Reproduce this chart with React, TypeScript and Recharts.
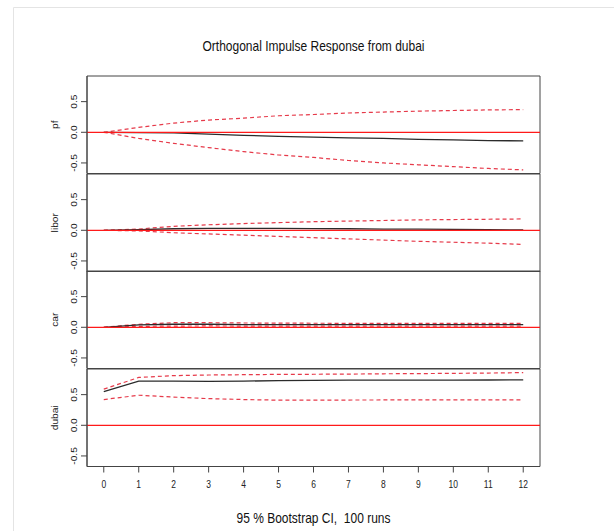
import React from "react";
import { LineChart, Line, XAxis, YAxis, ReferenceLine } from "recharts";

const steps = [0, 1, 2, 3, 4, 5, 6, 7, 8, 9, 10, 11, 12];
const xTicks = [0, 1, 2, 3, 4, 5, 6, 7, 8, 9, 10, 11, 12];
const yTicks = [-0.5, 0, 0.5];

const pf = [0, -0.005, -0.01, -0.03, -0.05, -0.065, -0.08, -0.09, -0.1, -0.115, -0.125, -0.135, -0.14];
const pfUpper = [0, 0.08, 0.15, 0.2, 0.23, 0.27, 0.29, 0.315, 0.33, 0.345, 0.355, 0.365, 0.37];
const pfLower = [0, -0.1, -0.18, -0.25, -0.315, -0.37, -0.41, -0.46, -0.5, -0.53, -0.56, -0.59, -0.613];

const libor = [0, 0.01, 0.025, 0.03, 0.03, 0.03, 0.028, 0.025, 0.02, 0.018, 0.015, 0.01, 0.005];
const liborUpper = [0, 0.02, 0.065, 0.09, 0.11, 0.125, 0.14, 0.15, 0.16, 0.17, 0.175, 0.18, 0.185];
const liborLower = [0, -0.01, -0.04, -0.06, -0.08, -0.1, -0.12, -0.14, -0.16, -0.18, -0.195, -0.21, -0.23];

const car = [0, 0.04, 0.05, 0.05, 0.045, 0.045, 0.045, 0.045, 0.045, 0.045, 0.045, 0.045, 0.045];
const carUpper = [0, 0.05, 0.075, 0.075, 0.07, 0.068, 0.066, 0.065, 0.065, 0.065, 0.065, 0.065, 0.065];
const carLower = [0, 0.015, 0.02, 0.022, 0.02, 0.02, 0.02, 0.02, 0.02, 0.02, 0.02, 0.02, 0.02];

const dubai = [0.55, 0.72, 0.72, 0.715, 0.72, 0.728, 0.732, 0.735, 0.735, 0.737, 0.738, 0.739, 0.74];
const dubaiUpper = [0.59, 0.78, 0.81, 0.82, 0.825, 0.83, 0.832, 0.835, 0.84, 0.843, 0.847, 0.852, 0.859];
const dubaiLower = [0.42, 0.49, 0.46, 0.435, 0.42, 0.41, 0.41, 0.412, 0.413, 0.414, 0.415, 0.415, 0.415];

const panelNames = ["pf", "libor", "car", "dubai"];
const titleText = "Orthogonal Impulse Response from dubai";
const footerText = "95 % Bootstrap CI,  100 runs";

const series = [
  [pf, pfUpper, pfLower],
  [libor, liborUpper, liborLower],
  [car, carUpper, carLower],
  [dubai, dubaiUpper, dubaiLower],
];

const FONT = "'Liberation Sans', Arial, Helvetica, sans-serif";
const SY = 1.2;
const Y_DOMAIN: [number, number] = [-0.672, 0.918];
const X_DOMAIN: [number, number] = [-0.48, 12.48];
const PANEL_TOPS = [76, 173.5, 271, 368.5];
const PANEL_H = 97.5;
const PAD = 2;
const FRAME = "#444";
const DASH_RED = "#e63a4a";

const YTick = (props: any) => {
  const { y, payload } = props;
  return (
    <g transform={`translate(74, ${y}) rotate(-90) scale(${SY},1)`}>
      <text x={0} y={0} textAnchor="middle" dominantBaseline="central" fontSize={8.5} fill="#222" fontFamily={FONT}>
        {Number(payload.value).toFixed(1)}
      </text>
    </g>
  );
};

const XTick = (props: any) => {
  const { x, payload } = props;
  return (
    <g transform={`translate(${x}, ${PAD + PANEL_H + 18}) scale(1,${SY})`}>
      <text x={0} y={0} textAnchor="middle" dominantBaseline="central" fontSize={8.5} fill="#222" fontFamily={FONT}>
        {payload.value}
      </text>
    </g>
  );
};

function Panel({ idx }: { idx: number }) {
  const [m, u, l] = series[idx];
  const data = steps.map((s, i) => ({ x: s, m: m[i], u: u[i], l: l[i] }));
  const last = idx === 3;
  const xAxisH = last ? 40 : 0;
  const height = PAD + PANEL_H + (last ? 0 : PAD) + xAxisH;
  const name = panelNames[idx];
  return (
    <div style={{ position: "absolute", left: 0, top: PANEL_TOPS[idx] - PAD }}>
      <LineChart width={614} height={height} data={data} margin={{ top: PAD, right: 74, left: 0, bottom: last ? 0 : PAD }}>
        <XAxis
          dataKey="x"
          type="number"
          domain={X_DOMAIN}
          allowDataOverflow
          ticks={xTicks}
          interval={0}
          height={xAxisH}
          hide={!last}
          axisLine={{ stroke: FRAME, strokeWidth: 1 }}
          tickLine={{ stroke: FRAME }}
          tickSize={6}
          tick={<XTick />}
        />
        <YAxis
          type="number"
          domain={Y_DOMAIN}
          allowDataOverflow
          ticks={yTicks}
          interval={0}
          width={87}
          tickSize={6}
          axisLine={{ stroke: FRAME, strokeWidth: 1 }}
          tickLine={{ stroke: FRAME }}
          tick={<YTick />}
          label={{
            value: name,
            content: (p: any) => {
              const vb = p.viewBox || {};
              const cy = (vb.y ?? PAD) + (vb.height ?? PANEL_H) / 2;
              return (
                <g transform={`translate(55.5, ${cy}) rotate(-90) scale(${SY},1)`}>
                  <text x={0} y={0} textAnchor="middle" dominantBaseline="central" fontSize={8.5} fill="#222" fontFamily={FONT}>
                    {name}
                  </text>
                </g>
              );
            },
          }}
        />
        <ReferenceLine y={Y_DOMAIN[1]} stroke={FRAME} strokeWidth={1} ifOverflow="visible" />
        <ReferenceLine y={Y_DOMAIN[0]} stroke={FRAME} strokeWidth={1} ifOverflow="visible" />
        <ReferenceLine x={X_DOMAIN[1]} stroke={FRAME} strokeWidth={1} ifOverflow="visible" />
        <ReferenceLine x={X_DOMAIN[0]} stroke={FRAME} strokeWidth={1} ifOverflow="visible" />
        <Line type="linear" dataKey="u" stroke={DASH_RED} strokeWidth={1.2} strokeDasharray="4 3" dot={false} isAnimationActive={false} />
        <Line type="linear" dataKey="l" stroke={DASH_RED} strokeWidth={1.2} strokeDasharray="4 3" dot={false} isAnimationActive={false} />
        <Line type="linear" dataKey="m" stroke="#2b2b2b" strokeWidth={1.3} dot={false} isAnimationActive={false} />
        <ReferenceLine y={0} stroke="#ff1a1a" strokeWidth={1.2} />
      </LineChart>
    </div>
  );
}

export default function App() {
  return (
    <div style={{ position: "absolute", left: 0, top: 0, width: 614, height: 531, background: "#fff", overflow: "hidden" }}>
      <svg width={614} height={531} style={{ position: "absolute", left: 0, top: 0 }}>
        <line x1={13.5} y1={7.5} x2={614} y2={7.5} stroke="#e4e4e4" strokeWidth={1} />
        <line x1={13.5} y1={7.5} x2={13.5} y2={531} stroke="#e4e4e4" strokeWidth={1} />
        <g transform={`translate(313.5, 46.5) scale(1,${SY})`}>
          <text x={0} y={0} textAnchor="middle" dominantBaseline="central" fontSize={12} fill="#111" fontFamily={FONT}>
            {titleText}
          </text>
        </g>
        <g transform={`translate(313.5, 518) scale(1,${SY})`}>
          <text x={0} y={0} textAnchor="middle" dominantBaseline="central" fontSize={12} fill="#111" fontFamily={FONT} style={{ whiteSpace: "pre" }}>
            {footerText}
          </text>
        </g>
      </svg>
      {[0, 1, 2, 3].map((i) => (
        <Panel key={i} idx={i} />
      ))}
    </div>
  );
}
